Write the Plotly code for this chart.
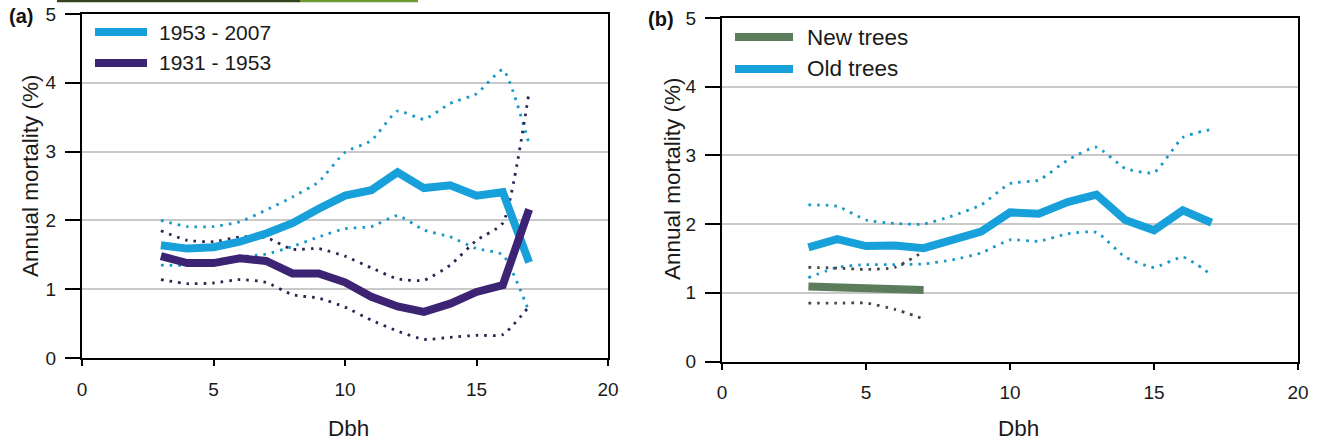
import plotly.graph_objects as go

# ---------------- data ----------------
dbh = [3, 4, 5, 6, 7, 8, 9, 10, 11, 12, 13, 14, 15, 16, 17]
dbh_new = [3, 4, 5, 6, 7]

# panel (a)
a_recent = [1.64, 1.59, 1.61, 1.69, 1.81, 1.96, 2.17, 2.36, 2.44, 2.70, 2.47, 2.51, 2.36, 2.41, 1.39]
a_recent_hi = [2.00, 1.91, 1.91, 1.98, 2.15, 2.34, 2.56, 2.99, 3.16, 3.59, 3.47, 3.70, 3.84, 4.19, 3.11]
a_recent_lo = [1.35, 1.35, 1.42, 1.47, 1.51, 1.62, 1.76, 1.88, 1.91, 2.07, 1.86, 1.76, 1.59, 1.50, 0.67]
a_early = [1.48, 1.38, 1.38, 1.45, 1.41, 1.23, 1.23, 1.10, 0.89, 0.75, 0.67, 0.79, 0.96, 1.06, 2.16]
a_early_hi = [1.85, 1.71, 1.69, 1.76, 1.75, 1.58, 1.59, 1.48, 1.31, 1.15, 1.13, 1.35, 1.71, 1.96, 3.87]
a_early_lo = [1.14, 1.08, 1.09, 1.14, 1.10, 0.92, 0.87, 0.74, 0.55, 0.39, 0.27, 0.30, 0.33, 0.34, 0.75]

# panel (b)
b_new = [1.09, 1.08, 1.07, 1.04, 1.04]
b_new_hi = [1.37, 1.36, 1.34, 1.37, 1.60]
b_new_lo = [0.85, 0.85, 0.85, 0.76, 0.62]
b_old = [1.66, 1.78, 1.68, 1.69, 1.65, 1.77, 1.89, 2.17, 2.15, 2.32, 2.43, 2.06, 1.91, 2.20, 2.02]
b_old_hi = [2.28, 2.26, 2.06, 2.01, 2.00, 2.12, 2.28, 2.59, 2.64, 2.93, 3.12, 2.81, 2.75, 3.26, 3.38]
b_old_lo = [1.22, 1.37, 1.41, 1.41, 1.42, 1.48, 1.58, 1.77, 1.75, 1.86, 1.88, 1.52, 1.37, 1.52, 1.26]

legend_a = ["1953 - 2007", "1931 - 1953"]
legend_b = ["New trees", "Old trees"]
x_ticks = [0, 5, 10, 15, 20]
y_ticks = [0, 1, 2, 3, 4, 5]

# ---------------- style ----------------
W, H = 1318, 441
BLUE = "#17a0d9"
BLUE_DOT = "#1798c9"
PURPLE = "#3c2373"
PURPLE_DOT = "#2b2450"
GREEN = "#5b7d5c"
GRAY_DOT = "#454545"
FONT = "Liberation Sans, Arial, sans-serif"
DOT = "2.6px,6px"


def px_x(v):
    return v / W


def px_y(v):
    return 1 - v / H


fig = go.Figure()


def dotted(x, y, color, xa, ya):
    fig.add_trace(go.Scatter(x=x, y=y, mode="lines", xaxis=xa, yaxis=ya,
                             line=dict(color=color, width=2.8, dash=DOT, shape="spline", smoothing=0.5),
                             showlegend=False, hoverinfo="skip"))


def solid(x, y, color, xa, ya, name):
    fig.add_trace(go.Scatter(x=x, y=y, mode="lines", xaxis=xa, yaxis=ya, name=name,
                             line=dict(color=color, width=8),
                             showlegend=False))


# panel (a)
dotted(dbh, a_recent_hi, BLUE_DOT, "x", "y")
dotted(dbh, a_recent_lo, BLUE_DOT, "x", "y")
dotted(dbh, a_early_hi, PURPLE_DOT, "x", "y")
dotted(dbh, a_early_lo, PURPLE_DOT, "x", "y")
solid(dbh, a_recent, BLUE, "x", "y", legend_a[0])
solid(dbh, a_early, PURPLE, "x", "y", legend_a[1])

# panel (b)
dotted(dbh, b_old_hi, BLUE_DOT, "x2", "y2")
dotted(dbh, b_old_lo, BLUE_DOT, "x2", "y2")
dotted(dbh_new, b_new_hi, GRAY_DOT, "x2", "y2")
dotted(dbh_new, b_new_lo, GRAY_DOT, "x2", "y2")
solid(dbh, b_old, BLUE, "x2", "y2", legend_b[1])
solid(dbh_new, b_new, GREEN, "x2", "y2", legend_b[0])

xcommon = dict(range=[0, 20], showline=True, linecolor="black", linewidth=2, mirror=True,
               ticks="outside", tickcolor="black", tickwidth=2, ticklen=6,
               tickvals=x_ticks, tickfont=dict(family=FONT, size=19, color="#1a1a1a"),
               showgrid=False, zeroline=False, fixedrange=True, ticklabelstandoff=7,
               automargin=False)
ycommon = dict(range=[0, 5], showline=True, linecolor="black", linewidth=2, mirror=True,
               ticks="outside", tickcolor="black", tickwidth=2, ticklen=15,
               tickvals=y_ticks, tickfont=dict(family=FONT, size=19, color="#1a1a1a"),
               showgrid=True, gridcolor="#c9c9c9", gridwidth=2, zeroline=False,
               fixedrange=True, ticklabelstandoff=5, automargin=False)

fig.update_layout(
    width=W, height=H,
    margin=dict(l=0, r=0, t=0, b=0, autoexpand=False),
    paper_bgcolor="white", plot_bgcolor="white",
    showlegend=False,
    xaxis=dict(domain=[px_x(82), px_x(608)], anchor="y", **xcommon),
    yaxis=dict(domain=[px_y(358), px_y(14)], anchor="x", **ycommon),
    xaxis2=dict(domain=[px_x(722), px_x(1298)], anchor="y2", **xcommon),
    yaxis2=dict(domain=[px_y(361.5), px_y(18)], anchor="x2", **ycommon),
)

shapes = []
annotations = []

# manual legends
for (x0, x1, yy, col, txt, tx, fs) in [
    (95, 147, 32, BLUE, legend_a[0], 157, 21),
    (95, 147, 63, PURPLE, legend_a[1], 157, 21),
    (735, 793, 37, GREEN, legend_b[0], 805, 22.5),
    (735, 793, 69, BLUE, legend_b[1], 805, 22.5),
]:
    shapes.append(dict(type="line", xref="paper", yref="paper", x0=px_x(x0), x1=px_x(x1),
                       y0=px_y(yy), y1=px_y(yy), line=dict(color=col, width=8)))
    annotations.append(dict(text=txt, xref="paper", yref="paper", x=px_x(tx), y=px_y(yy),
                            xanchor="left", yanchor="middle", showarrow=False,
                            font=dict(family=FONT, size=fs, color="#1a1a1a")))

# artifact line at the top of the figure
shapes.append(dict(type="line", xref="paper", yref="paper", x0=px_x(57), x1=px_x(300),
                   y0=px_y(1), y1=px_y(1), line=dict(color="#33441f", width=2.5)))
shapes.append(dict(type="line", xref="paper", yref="paper", x0=px_x(300), x1=px_x(418),
                   y0=px_y(1), y1=px_y(1), line=dict(color="#6a9a2e", width=2.5)))

# panel labels
annotations.append(dict(text="<b>(a)</b>", xref="paper", yref="paper", x=px_x(7), y=px_y(16),
                        xanchor="left", yanchor="middle", showarrow=False,
                        font=dict(family=FONT, size=20, color="#111")))
annotations.append(dict(text="<b>(b)</b>", xref="paper", yref="paper", x=px_x(646), y=px_y(19),
                        xanchor="left", yanchor="middle", showarrow=False,
                        font=dict(family=FONT, size=20, color="#111")))

# axis titles
for (xc, yc) in [(30, 176), (672, 179)]:
    annotations.append(dict(text="Annual mortality (%)", xref="paper", yref="paper",
                            x=px_x(xc), y=px_y(yc), xanchor="center", yanchor="middle",
                            textangle=-90, showarrow=False,
                            font=dict(family=FONT, size=22.5, color="#1a1a1a")))
for xc in [348, 1018]:
    annotations.append(dict(text="Dbh", xref="paper", yref="paper",
                            x=px_x(xc), y=px_y(428), xanchor="center", yanchor="middle",
                            showarrow=False, font=dict(family=FONT, size=22.5, color="#1a1a1a")))

fig.update_layout(shapes=shapes, annotations=annotations)
fig.write_html("out.html")
